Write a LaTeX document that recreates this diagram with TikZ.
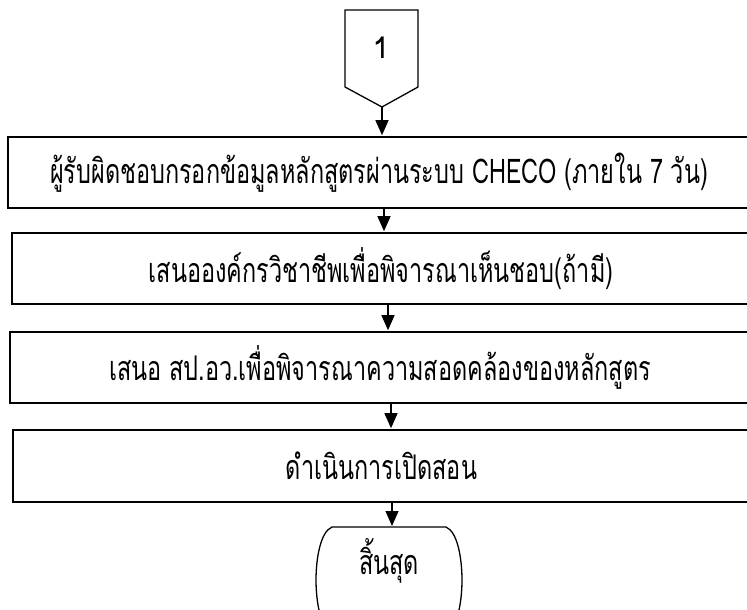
\documentclass[tikz,border=0pt]{standalone}
\usepackage{fontspec}
\newfontfamily\thaifont[Script=Thai,FakeStretch=0.69]{Loma}
\newfontfamily\numfont[Script=Thai]{Loma}
\usetikzlibrary{arrows.meta}
\begin{document}
\begin{tikzpicture}[x=1pt,y=-1pt,
  box/.style={draw, line width=1.6pt, rectangle, inner sep=0pt, font=\thaifont\fontsize{34}{40}\selectfont},
  lbl/.style={inner sep=0pt, font=\thaifont\fontsize{34}{40}\selectfont},
  shp/.style={line width=1.3pt},
  arr/.style={line width=1.3pt, shorten >=1pt, -{Triangle[length=15pt,width=13pt]}}]
\useasboundingbox (0,0) rectangle (747,610);
\clip (0,0) rectangle (747,610);
% off-page connector
\draw[shp] (345,10) -- (418,10) -- (418,87) -- (382,107) -- (345,87) -- cycle;
\node[lbl, font=\numfont\fontsize{30}{34}\selectfont] (c1) at (381,48) {1};
\coordinate (c1tip) at (382,107);
% boxes
\node[box, minimum width=742pt, minimum height=71pt] (b1) at (379,172.5) {ผู้รับผิดชอบกรอกข้อมูลหลักสูตรผ่านระบบ CHECO (ภายใน 7 วัน)};
\node[box, minimum width=738pt, minimum height=71pt] (b2) at (381,268.5) {เสนอองค์กรวิชาชีพเพื่อพิจารณาเห็นชอบ(ถ้ามี)};
\node[box, minimum width=740pt, minimum height=71pt] (b3) at (380,367.5) {เสนอ สป.อว.เพื่อพิจารณาความสอดคล้องของหลักสูตร};
\node[box, minimum width=737pt, minimum height=72pt] (b4) at (381.5,466) {ดำเนินการเปิดสอน};
% terminator
\draw[shp] (332,527) -- (446,527) .. controls (458,532) and (462,560) .. (462,580)
  .. controls (462,600) and (458,628) .. (446,633) -- (332,633)
  .. controls (320,628) and (316,600) .. (316,580)
  .. controls (316,560) and (320,532) .. (332,527) -- cycle;
\node[lbl] (end) at (389,561) {สิ้นสุด};
\coordinate (ttop) at (392,527);
% connectors
\draw[arr] (c1tip) -- ([xshift=3pt]b1.north);
\draw[arr] ([xshift=5pt]b1.south) -- ([xshift=3pt]b2.north);
\draw[arr] ([xshift=7pt]b2.south) -- ([xshift=8pt]b3.north);
\draw[arr] ([xshift=11pt]b3.south) -- ([xshift=9.5pt]b4.north);
\draw[arr] ([xshift=10.5pt]b4.south) -- (ttop);
\end{tikzpicture}
\end{document}
